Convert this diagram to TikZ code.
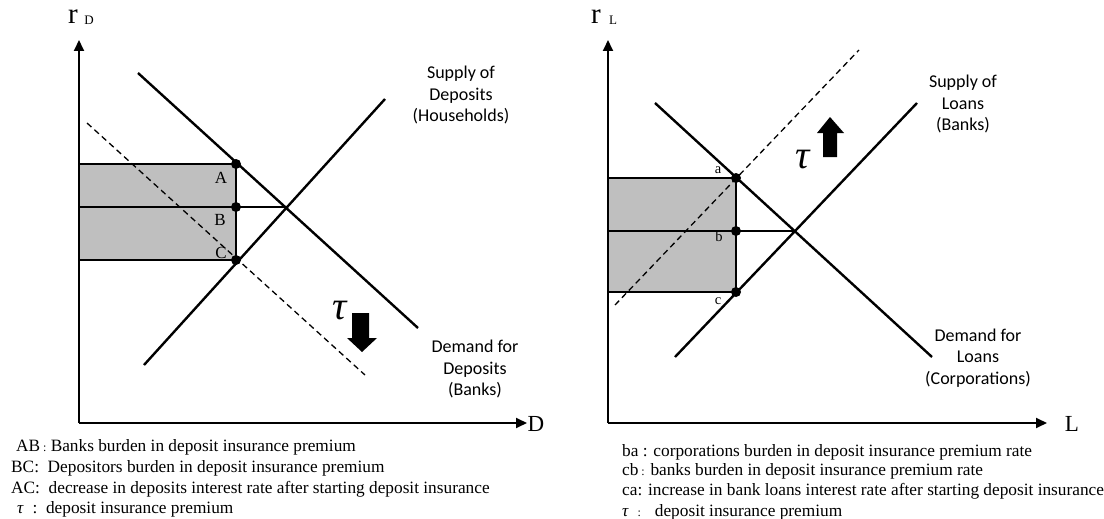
\documentclass[tikz,border=0pt]{standalone}
\usepackage{fontspec}
\setmainfont{Liberation Serif}
\newfontfamily\calib{Carlito}
\usetikzlibrary{arrows.meta}
\begin{document}
\begin{tikzpicture}[x=1pt,y=-1pt,
  curve/.style={line width=2.4pt},
  axisline/.style={line width=1.8pt,-{Triangle[length=11pt,width=10pt]}},
  dashline/.style={line width=1.3pt,dash pattern=on 6pt off 4pt},
  dotnode/.style={circle,fill=black,inner sep=0pt,minimum size=10pt},
  curvelab/.style={font=\calib\fontsize{18}{21.5}\selectfont,align=center},
  legend/.style={font=\fontsize{17.3}{20}\selectfont,anchor=west,inner sep=0pt},
  ptlab/.style={font=\fontsize{17}{17}\selectfont,inner sep=0pt},
  smallptlab/.style={font=\fontsize{14.5}{14.5}\selectfont,inner sep=0pt},
  taulab/.style={font=\itshape\fontsize{40}{40}\selectfont,inner sep=0pt},
  blockarrow/.style={fill=black}
]
\useasboundingbox (0,0) rectangle (1104,519);

% ---------------- Left panel ----------------
\coordinate (O1) at (79,423);
\coordinate (Y1) at (79,40);
\coordinate (X1) at (527,423);
\coordinate (A) at (236,164);
\coordinate (B) at (236,207);
\coordinate (C) at (236,260);
\coordinate (E1) at (286,207);
\coordinate (R1a) at (79,164);
\coordinate (R1b) at (79,207);
\coordinate (R1c) at (79,260);
\coordinate (Ds) at (138,73);
\coordinate (De) at (418,328);
\coordinate (Ss) at (144,365);
\coordinate (Se) at (385,99);
\coordinate (Ts) at (87,123);
\coordinate (Te) at (365,375);

\fill[black!25] (R1a) rectangle (C);
\draw[dashline] (Ts) -- (Te);
\draw[line width=2pt] (R1a) -- (A) -- (C) -- (R1c);
\draw[line width=2pt] (R1b) -- (B);
\draw[line width=1.3pt] (B) -- (E1);
\draw[curve] (Ds) -- (De);
\draw[curve] (Ss) -- (Se);
\draw[axisline] (O1) -- (Y1);
\draw[axisline] (O1) -- (X1);
\node[dotnode] (dA) at (A) {};
\node[dotnode] (dB) at (B) {};
\node[dotnode] (dC) at (C) {};
\node[ptlab] (lA) at (221,178) {A};
\node[ptlab] (lB) at (220,220) {B};
\node[ptlab] (lC) at (221,253) {C};

\node[inner sep=0pt,font=\fontsize{29}{29}\selectfont] (rD) at (73,17) {r};
\node[inner sep=0pt,font=\fontsize{13}{13}\selectfont] (rDsub) at (89,20) {D};
\node[inner sep=0pt,font=\fontsize{23}{23}\selectfont] (xD) at (536,424) {D};

\node[taulab] (tau1) at (340,311) {τ};
\fill[blockarrow] (352,313) -- (369,313) -- (369,338) -- (377,338) -- (362,352) -- (347,338) -- (352,338) -- cycle;

\node[curvelab] (supD) at (461,95) {Supply of\\Deposits\\(Households)};
\node[curvelab] (demD) at (475,369) {Demand for\\Deposits\\(Banks)};

\node[legend] (leg1) at (16,447) {AB\,{\fontsize{12}{12}\selectfont :} Banks burden in deposit insurance premium};
\node[legend] (leg2) at (11,468) {BC:\ \ Depositors burden in deposit insurance premium};
\node[legend] (leg3) at (11,489) {AC:\ \ decrease in deposits interest rate after starting deposit insurance};
\node[legend] (leg4) at (17,509) {\textit{τ}\ \ :\ \ deposit insurance premium};

% ---------------- Right panel ----------------
\coordinate (O2) at (608,423);
\coordinate (Y2) at (608,40);
\coordinate (X2) at (1047,423);
\coordinate (a) at (736,178);
\coordinate (b) at (736,231);
\coordinate (c) at (736,292);
\coordinate (E2) at (796,231);
\coordinate (R2a) at (608,178);
\coordinate (R2b) at (608,231);
\coordinate (R2c) at (608,292);
\coordinate (LDs) at (655,103);
\coordinate (LDe) at (932,357);
\coordinate (LSs) at (675,357);
\coordinate (LSe) at (917,103);
\coordinate (LTs) at (615,305);
\coordinate (LTe) at (859,50);

\fill[black!25] (R2a) rectangle (c);
\draw[dashline] (LTs) -- (LTe);
\draw[line width=2pt] (R2a) -- (a) -- (c) -- (R2c);
\draw[line width=2pt] (R2b) -- (b);
\draw[line width=1.3pt] (b) -- (E2);
\draw[curve] (LDs) -- (LDe);
\draw[curve] (LSs) -- (LSe);
\draw[axisline] (O2) -- (Y2);
\draw[axisline] (O2) -- (X2);
\node[dotnode] (da) at (a) {};
\node[dotnode] (db) at (b) {};
\node[dotnode] (dc) at (c) {};
\node[smallptlab] (la) at (718,170) {a};
\node[smallptlab] (lb) at (719,237) {b};
\node[smallptlab] (lc) at (718,301) {c};

\node[inner sep=0pt,font=\fontsize{29}{29}\selectfont] (rL) at (596,17) {r};
\node[inner sep=0pt,font=\fontsize{13}{13}\selectfont] (rLsub) at (613,20) {L};
\node[inner sep=0pt,font=\fontsize{23}{23}\selectfont] (xL) at (1072,424) {L};

\node[taulab] (tau2) at (803,160) {τ};
\fill[blockarrow] (823,157) -- (837,157) -- (837,133) -- (844,133) -- (830,117) -- (817,133) -- (823,133) -- cycle;

\node[curvelab] (supL) at (963,104) {Supply of\\Loans\\(Banks)};
\node[curvelab] (demL) at (978,358) {Demand for\\Loans\\(Corporations)};

\node[legend] (leg5) at (622,452) {ba : corporations burden in deposit insurance premium rate};
\node[legend] (leg6) at (622,471) {cb\,{\fontsize{12}{12}\selectfont :} banks burden in deposit insurance premium rate};
\node[legend] (leg7) at (622,491) {ca: increase in bank loans interest rate after starting deposit insurance};
\node[legend] (leg8) at (622,512) {\textit{τ}\ \ {\fontsize{12}{12}\selectfont :}\hspace{14pt}deposit insurance premium};
\end{tikzpicture}
\end{document}
